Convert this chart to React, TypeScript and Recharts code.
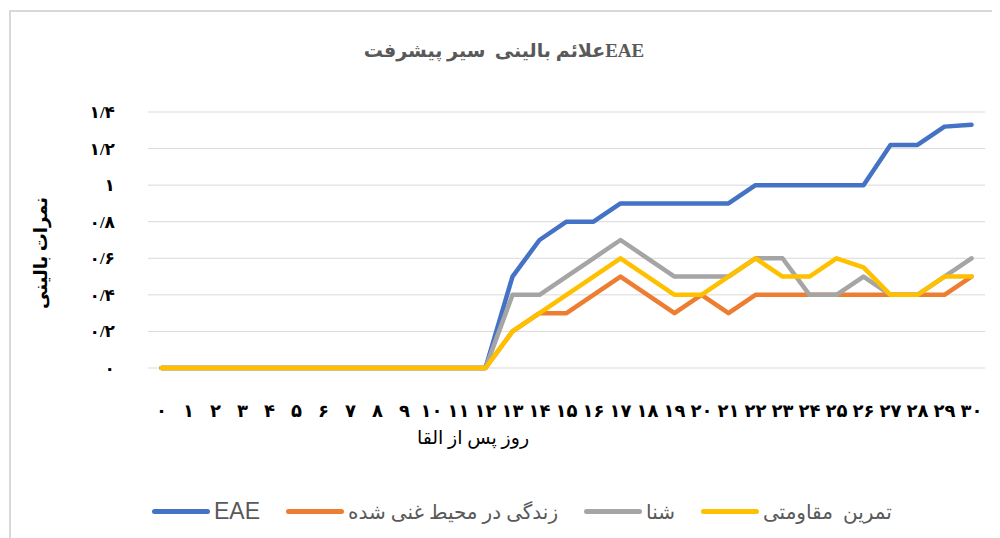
import React from 'react';
import { LineChart, Line, XAxis, YAxis, CartesianGrid, Legend } from 'recharts';

const days = [0, 1, 2, 3, 4, 5, 6, 7, 8, 9, 10, 11, 12, 13, 14, 15, 16, 17, 18, 19, 20, 21, 22, 23, 24, 25, 26, 27, 28, 29, 30];

const eae = [0, 0, 0, 0, 0, 0, 0, 0, 0, 0, 0, 0, 0, 0.5, 0.7, 0.8, 0.8, 0.9, 0.9, 0.9, 0.9, 0.9, 1, 1, 1, 1, 1, 1.22, 1.22, 1.32, 1.33];
const enriched = [0, 0, 0, 0, 0, 0, 0, 0, 0, 0, 0, 0, 0, 0.2, 0.3, 0.3, 0.4, 0.5, 0.4, 0.3, 0.4, 0.3, 0.4, 0.4, 0.4, 0.4, 0.4, 0.4, 0.4, 0.4, 0.5];
const swim = [0, 0, 0, 0, 0, 0, 0, 0, 0, 0, 0, 0, 0, 0.4, 0.4, 0.5, 0.6, 0.7, 0.6, 0.5, 0.5, 0.5, 0.6, 0.6, 0.4, 0.4, 0.5, 0.4, 0.4, 0.5, 0.6];
const resistance = [0, 0, 0, 0, 0, 0, 0, 0, 0, 0, 0, 0, 0, 0.2, 0.3, 0.4, 0.5, 0.6, 0.5, 0.4, 0.4, 0.5, 0.6, 0.5, 0.5, 0.6, 0.55, 0.4, 0.4, 0.5, 0.5];

const yTicks = [0, 0.2, 0.4, 0.6, 0.8, 1, 1.2, 1.4];

const series = [
  { key: 'eae', name: 'EAE', color: '#4472C4' },
  { key: 'enriched', name: 'زندگی در محیط غنی شده', color: '#ED7D31' },
  { key: 'swim', name: 'شنا', color: '#A5A5A5' },
  { key: 'resistance', name: 'تمرین  مقاومتی', color: '#FFC000' },
];

const data = days.map((d, i) => ({
  day: d,
  eae: eae[i],
  enriched: enriched[i],
  swim: swim[i],
  resistance: resistance[i],
}));

const faDigits = '۰۱۲۳۴۵۶۷۸۹';
const toFa = (s: string) => s.replace(/[0-9]/g, (c) => faDigits[Number(c)]).replace('.', '/');

const serif = '"Liberation Serif", "DejaVu Sans", serif';

const LegendContent = () => (
  <div style={{ display: 'flex', alignItems: 'center', paddingLeft: 144, fontFamily: serif, fontSize: 20, color: '#595959' }}>
    {series.map((s, i) => (
      <div key={s.key} style={{ display: 'flex', alignItems: 'center', marginRight: 26 }}>
        <span style={{ display: 'inline-block', width: 58, height: 5, borderRadius: 2.5, background: s.color, marginRight: 4 }} />
        <span style={{ whiteSpace: 'pre', fontFamily: i === 0 ? '"Liberation Sans", sans-serif' : serif, fontSize: i === 0 ? 23 : 20 }}>{s.name}</span>
      </div>
    ))}
  </div>
);

const App: React.FC = () => {
  return (
    <div style={{ position: 'relative', width: 992, height: 530, overflow: 'hidden', background: '#fff' }}>
      <div style={{ position: 'absolute', left: 1, top: 2, width: 1100, height: 700, border: '2px solid #D9D9D9' }} />
      <div
        style={{
          position: 'absolute', top: 31, left: 0, width: 992, textAlign: 'center', direction: 'rtl',
          whiteSpace: 'pre', fontFamily: serif, fontWeight: 'bold', fontSize: 19, color: '#595959',
        }}
      >
        EAEعلائم بالینی  سیر پیشرفت
      </div>
      <LineChart
        width={992}
        height={530}
        data={data}
        margin={{ top: 104, right: 15, left: 80, bottom: 10 }}
        style={{ position: 'absolute', top: 0, left: 0 }}
      >
        <CartesianGrid vertical={false} stroke="#D9D9D9" />
        <XAxis
          dataKey="day"
          axisLine={false}
          tickLine={false}
          tickSize={0}
          tickMargin={36}
          interval={0}
          height={130}
          padding={{ left: 13.5, right: 13.5 }}
          tickFormatter={(v) => toFa(String(v))}
          tick={{ fill: '#000', fontSize: 18, fontWeight: 'bold', fontFamily: serif }}
          label={({ viewBox }: any) => (
            <text x={465} y={viewBox.y + 76} textAnchor="middle" fill="#000" fontSize={19} fontFamily={serif}>
              روز پس از القا
            </text>
          )}
        />
        <YAxis
          domain={[0, 1.4]}
          ticks={yTicks}
          width={60}
          axisLine={false}
          tickLine={false}
          tickSize={0}
          tickMargin={33}
          tickFormatter={(v) => toFa(String(v))}
          tick={{ fill: '#000', fontSize: 17, fontWeight: 'bold', fontFamily: serif }}
          label={() => (
            <text
              x={33}
              y={245}
              transform="rotate(-90 33 245)"
              textAnchor="middle"
              dominantBaseline="central"
              fill="#000"
              fontSize={18}
              fontWeight="bold"
              fontFamily={serif}
            >
              نمرات بالینی
            </text>
          )}
        />
        <Legend verticalAlign="bottom" height={30} wrapperStyle={{ left: 0, width: 992 }} content={<LegendContent />} />
        {series.map((s) => (
          <Line
            key={s.key}
            type="linear"
            dataKey={s.key}
            name={s.name}
            stroke={s.color}
            strokeWidth={4.5}
            strokeLinecap="round"
            strokeLinejoin="round"
            dot={false}
            activeDot={false}
            isAnimationActive={false}
          />
        ))}
      </LineChart>
    </div>
  );
};

export default App;
